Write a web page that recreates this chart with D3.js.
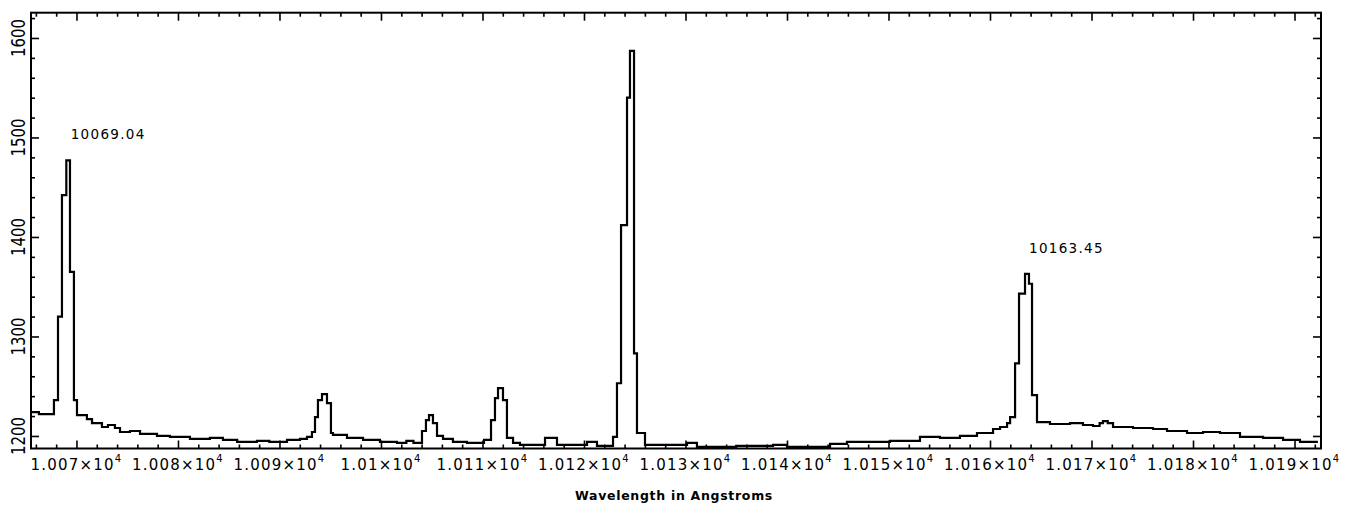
<!doctype html>
<html lang="en">
<head>
	<meta charset="UTF-8">
	<title>Spectrum</title>
	<script src="https://d3js.org/d3.v7.min.js"></script>
	<style>
		body {
			margin: 0;
			padding: 0;
			background: #fff;
		}
		svg text {
			font-family: "DejaVu Sans", sans-serif;
			fill: #000;
		}
		.tick-label {
			font-size: 15px;
		}
		.x-label {
			letter-spacing: 1.2px;
		}
		.peak-label {
			font-size: 13.5px;
			letter-spacing: 1.3px;
		}
		.axis-title {
			font-size: 12.5px;
			font-weight: bold;
			letter-spacing: 0.7px;
		}
	</style>
</head>
<body>
	<div id="chart"></div>

	<script>
		// Data (step histogram)
		const wavelength = [
			10065.5, 10066.3, 10067.78, 10068.18, 10068.57, 10069.0, 10069.36, 10069.75, 10070.05,
			10071.03, 10071.53, 10072.51, 10073.1, 10073.79, 10074.29, 10075.27, 10076.26, 10077.93,
			10079.21, 10081.18, 10083.15, 10084.43, 10085.83, 10087.78, 10089.0, 10090.74, 10092.02,
			10092.71, 10093.2, 10093.5, 10093.79, 10094.19, 10094.68, 10095.07, 10095.27, 10096.65,
			10098.23, 10099.9, 10101.58, 10102.5, 10103.2, 10104.04, 10104.43, 10104.73, 10105.12,
			10105.52, 10106.11, 10107.09, 10108.47, 10110.15, 10110.84, 10111.23, 10111.53, 10112.02,
			10112.41, 10113.01, 10113.69, 10116.16, 10117.34, 10120.3, 10121.28, 10122.86, 10123.25,
			10123.65, 10124.24, 10124.53, 10124.93, 10125.22, 10126.01, 10130.15, 10131.13, 10135.0,
			10138.62, 10140.0, 10144.24, 10145.91, 10148.0, 10150.15, 10153.1, 10155.07, 10157.04,
			10158.72, 10160.3, 10160.99, 10161.68, 10161.98, 10162.47, 10162.86, 10163.45, 10163.84,
			10164.14, 10164.63, 10165.91, 10167.88, 10169.16, 10170.15, 10170.8, 10171.13, 10171.6,
			10172.12, 10174.09, 10176.06, 10177.44, 10179.41, 10180.99, 10182.66, 10184.63, 10186.9,
			10188.87, 10190.54, 10192.3
		];
		const counts = [
			1224, 1222, 1236, 1320, 1442, 1477, 1365, 1236, 1221,
			1217, 1213, 1209, 1211, 1208, 1204, 1205, 1202, 1200,
			1199, 1197, 1198, 1196, 1194, 1195, 1194, 1196, 1197,
			1199, 1204, 1219, 1236, 1242, 1233, 1203, 1201, 1198,
			1196, 1194, 1193, 1195, 1193, 1205, 1216, 1221, 1213,
			1200, 1197, 1194, 1193, 1196, 1216, 1238, 1248, 1236,
			1198, 1193, 1191, 1198, 1191, 1194, 1190, 1199, 1253,
			1412, 1540, 1587, 1283, 1203, 1191, 1193, 1189, 1190,
			1191, 1189, 1192, 1194, 1194, 1195, 1199, 1198, 1200,
			1203, 1207, 1209, 1213, 1219, 1273, 1343, 1363, 1353,
			1241, 1214, 1212, 1213, 1211, 1210, 1213, 1215, 1213,
			1209, 1208, 1207, 1205, 1203, 1204, 1203, 1199, 1198,
			1196, 1194, 1194
		];

		// Axis ticks
		const xTickValues = [10070, 10080, 10090, 10100, 10110, 10120, 10130, 10140, 10150, 10160, 10170, 10180, 10190];
		const xTickLabels = ['1.007', '1.008', '1.009', '1.01', '1.011', '1.012', '1.013', '1.014', '1.015', '1.016', '1.017', '1.018', '1.019'];
		const yTickValues = [1200, 1300, 1400, 1500, 1600];
		const yTickLabels = ['1200', '1300', '1400', '1500', '1600'];

		// Annotated lines
		const peakWavelengths = [10069.04, 10163.45];
		const peakCounts = [1477, 1363];
		const peakLabels = ['10069.04', '10163.45'];

		const width = 1359;
		const height = 510;

		// Plot box
		const boxLeft = 31;
		const boxRight = 1321;
		const boxTop = 12.7;
		const boxBottom = 448.5;

		const x = d3.scaleLinear()
			.domain([10065.52, 10192.61])
			.range([boxLeft, boxRight]);

		const y = d3.scaleLinear()
			.domain([1187.4, 1625.4])
			.range([boxBottom, boxTop]);

		const svg = d3.select('#chart')
			.append('svg')
			.attr('width', width)
			.attr('height', height);

		// Minor ticks
		const xMinor = d3.range(10066, 10193, 2).filter((d) => d % 10 !== 0);
		const yMinor = d3.range(1200, 1625, 20).filter((d) => d % 100 !== 0);

		function drawAxis(axis, tx, ty) {
			const g = svg.append('g')
				.attr('transform', 'translate(' + tx + ',' + ty + ')')
				.call(axis);
			g.select('.domain').remove();
			g.selectAll('.tick line').attr('stroke', '#000').attr('stroke-width', 1.6);
			g.selectAll('text').remove();
		}

		// Bottom / top ticks (pointing inwards)
		drawAxis(d3.axisBottom(x).tickValues(xTickValues).tickSize(-8), 0, boxBottom);
		drawAxis(d3.axisBottom(x).tickValues(xMinor).tickSize(-4), 0, boxBottom);
		drawAxis(d3.axisTop(x).tickValues(xTickValues).tickSize(-8), 0, boxTop);
		drawAxis(d3.axisTop(x).tickValues(xMinor).tickSize(-4), 0, boxTop);

		// Left / right ticks
		drawAxis(d3.axisLeft(y).tickValues(yTickValues).tickSize(-8), boxLeft, 0);
		drawAxis(d3.axisLeft(y).tickValues(yMinor).tickSize(-4), boxLeft, 0);
		drawAxis(d3.axisRight(y).tickValues(yTickValues).tickSize(-8), boxRight, 0);
		drawAxis(d3.axisRight(y).tickValues(yMinor).tickSize(-4), boxRight, 0);

		// Spectrum as step line
		const data = wavelength.map((w, i) => ({ w: w, c: counts[i] }));

		const line = d3.line()
			.x((d) => x(d.w))
			.y((d) => y(d.c))
			.curve(d3.curveStepAfter);

		svg.append('path')
			.datum(data)
			.attr('d', line)
			.attr('fill', 'none')
			.attr('stroke', '#000')
			.attr('stroke-width', 2.2);

		// Frame
		svg.append('rect')
			.attr('x', boxLeft)
			.attr('y', boxTop)
			.attr('width', boxRight - boxLeft)
			.attr('height', boxBottom - boxTop)
			.attr('fill', 'none')
			.attr('stroke', '#000')
			.attr('stroke-width', 2);

		// X tick labels with superscript exponent
		const xLab = svg.selectAll('.x-label')
			.data(xTickValues)
			.enter()
			.append('text')
			.attr('class', 'tick-label x-label')
			.attr('x', (d) => x(d))
			.attr('y', 469.5)
			.attr('text-anchor', 'middle');

		xLab.append('tspan').text((d, i) => xTickLabels[i] + '\u00d710');
		xLab.append('tspan')
			.attr('dy', -8)
			.attr('font-size', 10)
			.text('4');

		// Y tick labels (rotated)
		svg.selectAll('.y-label')
			.data(yTickValues)
			.enter()
			.append('text')
			.attr('class', 'tick-label y-label')
			.attr('text-anchor', 'middle')
			.attr('transform', (d) => 'translate(25,' + y(d) + ') rotate(-90) scale(1,1.35)')
			.text((d, i) => yTickLabels[i]);

		// Peak annotations
		svg.selectAll('.peak-label')
			.data(peakLabels)
			.enter()
			.append('text')
			.attr('class', 'peak-label')
			.attr('x', (d, i) => x(peakWavelengths[i]) + 4)
			.attr('y', (d, i) => y(peakCounts[i] + 21))
			.text((d) => d);

		// Axis title
		svg.append('text')
			.attr('class', 'axis-title')
			.attr('x', 674)
			.attr('y', 500)
			.attr('text-anchor', 'middle')
			.text('Wavelength in Angstroms');
	</script>
</body>
</html>
